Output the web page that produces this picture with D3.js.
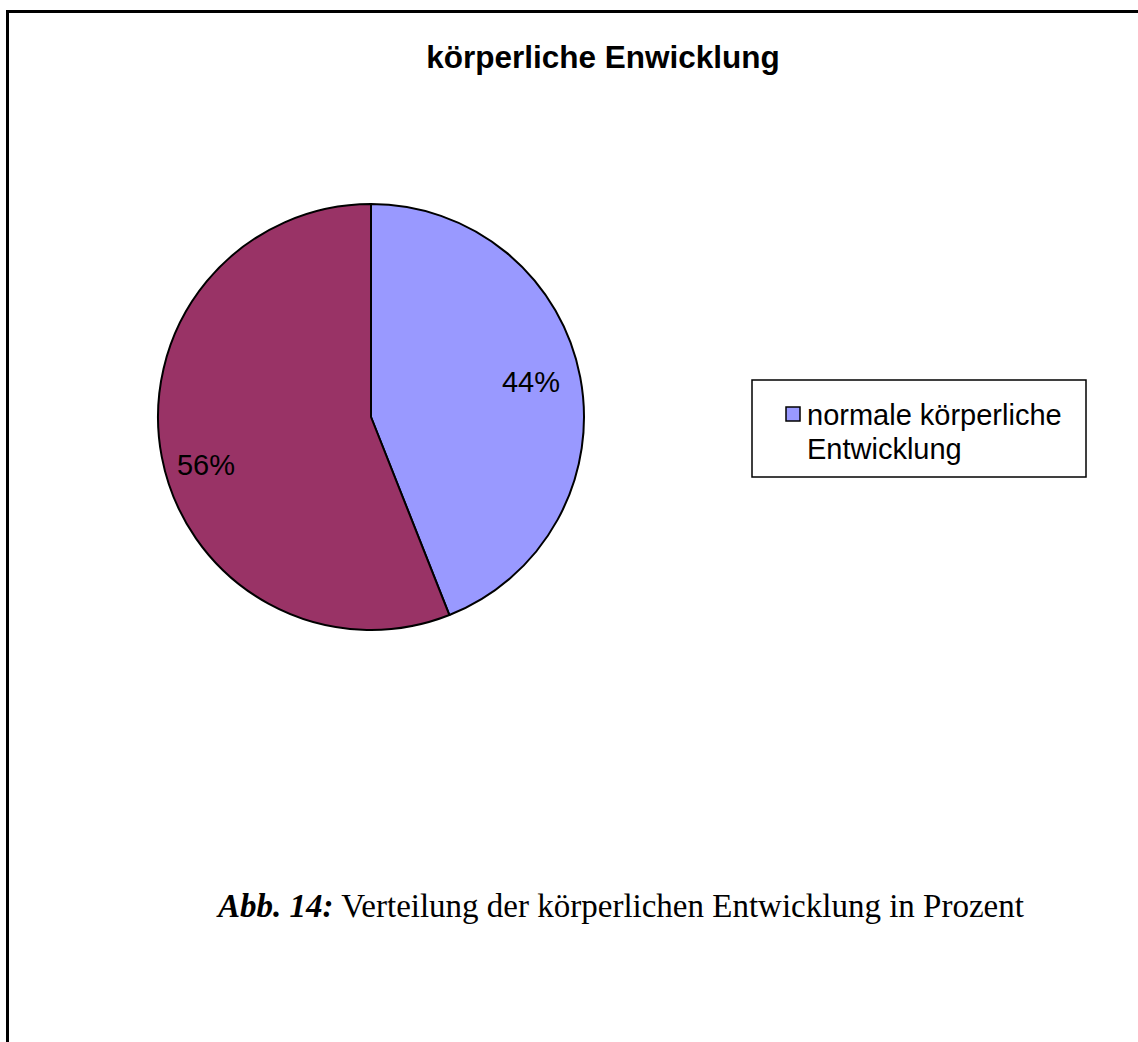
<!DOCTYPE html>
<html>
<head>
<meta charset="utf-8">
<script src="https://cdn.jsdelivr.net/npm/d3@7"></script>
<style>
  html, body { margin: 0; padding: 0; background: #fff; }
  svg { display: block; }
</style>
</head>
<body>
<svg id="chart" width="1138" height="1042"></svg>
<script>
// Chart data
const categories = ["normale körperliche Entwicklung", "auffällige körperliche Entwicklung"];
const values = [44, 56];
const colors = ["#9999ff", "#993366"];
const legendLines = ["normale körperliche", "Entwicklung"];
const chartTitle = "körperliche Enwicklung";

const svg = d3.select("#chart");

// Outer frame
svg.append("rect")
  .attr("x", 7.5).attr("y", 11.5)
  .attr("width", 1160).attr("height", 1060)
  .attr("fill", "none").attr("stroke", "#000").attr("stroke-width", 3);

// Title
svg.append("text")
  .attr("x", 603).attr("y", 68)
  .attr("text-anchor", "middle")
  .attr("font-family", "Liberation Sans, Arial, sans-serif")
  .attr("font-weight", "bold")
  .attr("font-size", 31.5)
  .text(chartTitle);

// Pie
const cx = 371, cy = 417, r = 213;
const pie = d3.pie().sort(null).value(d => d)(values);
const arc = d3.arc().innerRadius(0).outerRadius(r);
const g = svg.append("g").attr("transform", `translate(${cx},${cy})`);

g.selectAll("path")
  .data(pie)
  .join("path")
  .attr("d", arc)
  .attr("fill", (d, i) => colors[i])
  .attr("stroke", "#000")
  .attr("stroke-width", 2)
  .attr("stroke-linejoin", "round");

// Percent labels
const labelPos = [[531, 392], [206, 475]];
g.selectAll("text.pct")
  .data(pie)
  .join("text")
  .attr("class", "pct")
  .attr("x", (d, i) => labelPos[i][0] - cx)
  .attr("y", (d, i) => labelPos[i][1] - cy)
  .attr("text-anchor", "middle")
  .attr("font-family", "Liberation Sans, Arial, sans-serif")
  .attr("font-size", 29)
  .text(d => Math.round(d.value / d3.sum(values) * 100) + "%");

// Legend
const lg = svg.append("g");
lg.append("rect")
  .attr("x", 752).attr("y", 380)
  .attr("width", 334).attr("height", 97)
  .attr("fill", "#fff").attr("stroke", "#000").attr("stroke-width", 1.5);
lg.append("rect")
  .attr("x", 786).attr("y", 407)
  .attr("width", 14).attr("height", 14)
  .attr("fill", colors[0]).attr("stroke", "#000").attr("stroke-width", 1.5);
lg.append("text")
  .attr("font-family", "Liberation Sans, Arial, sans-serif")
  .attr("font-size", 29)
  .selectAll("tspan")
  .data(legendLines)
  .join("tspan")
  .attr("x", 807)
  .attr("y", (d, i) => 425 + i * 34)
  .text(d => d);

// Caption
const cap = svg.append("text")
  .attr("x", 218).attr("y", 917)
  .attr("font-family", "Liberation Serif, 'Times New Roman', serif")
  .attr("font-size", 33);
cap.append("tspan").attr("font-weight", "bold").attr("font-style", "italic").text("Abb. 14:");
cap.append("tspan").text(" Verteilung der körperlichen Entwicklung in Prozent");
</script>
</body>
</html>
